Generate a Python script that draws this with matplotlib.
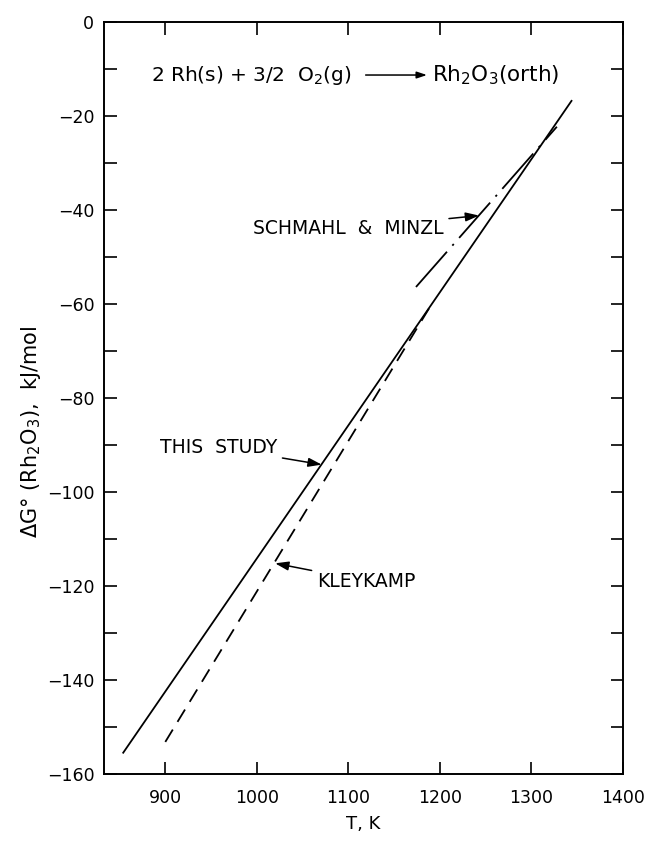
import matplotlib.pyplot as plt
from matplotlib.ticker import MultipleLocator

# line end points (T in K, dG in kJ/mol)
this_T = [854, 1344]
this_G = [-155.5, -16.8]
kley_T = [900, 1190]
kley_G = [-153.2, -60.4]
schmahl_T = [1174, 1328]
schmahl_G = [-56.4, -22.3]

x_ticks = [900, 1000, 1100, 1200, 1300, 1400]
y_ticks = [0, -20, -40, -60, -80, -100, -120, -140, -160]

fig = plt.figure(figsize=(6.46, 8.43), dpi=100)
ax = fig.add_axes([0.161, 0.082, 0.803, 0.892])

ax.plot(this_T, this_G, color='black', lw=1.3)
ax.plot(kley_T, kley_G, color='black', lw=1.3, dashes=(8, 5))
ax.plot(schmahl_T, schmahl_G, color='black', lw=1.3, dashes=(26, 4.5, 1.2, 4.5))

ax.set_xlim(833, 1400)
ax.set_ylim(-160, 0)
ax.set_xticks(x_ticks)
ax.set_yticks(y_ticks)
ax.yaxis.set_minor_locator(MultipleLocator(10))
ax.tick_params(which='both', direction='in', top=True, right=True,
               length=9, width=1.2, labelsize=12.5)
ax.tick_params(axis='x', pad=11)
ax.tick_params(axis='y', pad=7)
for s in ax.spines.values():
    s.set_linewidth(1.4)

ax.set_xlabel('T, K', fontsize=13, labelpad=6)
ax.set_ylabel(r'$\Delta$G$\degree$ (Rh$_2$O$_3$),  kJ/mol', fontsize=15)
ax.yaxis.set_label_coords(-0.118, 0.455)

arrow = dict(arrowstyle='-|>,head_length=0.6,head_width=0.2', color='black', lw=1.1,
             shrinkA=2, shrinkB=0)

ax.annotate('THIS  STUDY', xy=(1071, -94.2), xytext=(1022, -90.5),
            ha='right', va='center', fontsize=13.5, arrowprops=arrow)
ax.annotate('KLEYKAMP', xy=(1020, -115.2), xytext=(1066, -119),
            ha='left', va='center', fontsize=13.5, arrowprops=arrow)
ax.annotate('SCHMAHL  &  MINZL', xy=(1243, -41.2), xytext=(1204, -44),
            ha='right', va='center', fontsize=13.5, arrowprops=arrow)

# reaction
ax.text(884, -11.3, r'2 Rh(s) + 3/2  O$_2$(g)', ha='left', va='center', fontsize=14.5)
ax.annotate('', xy=(1186, -11.3), xytext=(1119, -11.3), arrowprops=dict(
    arrowstyle='-|>,head_length=0.6,head_width=0.2', color='black', lw=1.1,
    shrinkA=0, shrinkB=0))
ax.text(1191, -11.3, r'Rh$_2$O$_3$(orth)', ha='left', va='center', fontsize=15.5)

fig.savefig('out.png', dpi=100)
